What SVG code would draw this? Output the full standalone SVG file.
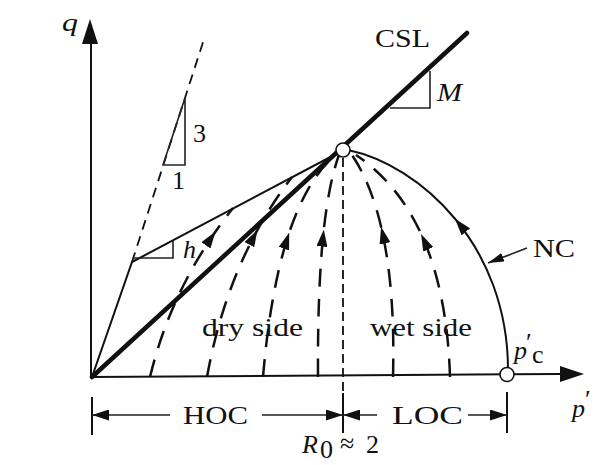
<svg xmlns="http://www.w3.org/2000/svg" width="608" height="465" viewBox="0 0 608 465">
<defs>
<style>
.ln{fill:none;stroke:#111;stroke-width:2}
.thick{fill:none;stroke:#111;stroke-width:4.5;stroke-linecap:round}
.dash{fill:none;stroke:#111;stroke-width:2.5;stroke-dasharray:18 12}
.dashs{fill:none;stroke:#111;stroke-width:1.8;stroke-dasharray:10 7}
.dashv{fill:none;stroke:#111;stroke-width:1.8;stroke-dasharray:9 5}
.thin{fill:none;stroke:#222;stroke-width:1.6}
.head{fill:#111;stroke:none}
.t{font-family:"Liberation Serif","Times New Roman",serif;fill:#111;font-size:26px}
.i{font-style:italic}
.circ{fill:#fff;stroke:#111;stroke-width:1.6}
</style>
<marker id="ah" viewBox="0 0 17 11" refX="17" refY="5.5" markerWidth="17" markerHeight="11" orient="auto" markerUnits="userSpaceOnUse"><path d="M0,0 L17,5.5 L0,11 z" fill="#111"/></marker>
<marker id="ahs" viewBox="0 0 16 9" refX="16" refY="4.5" markerWidth="16" markerHeight="9" orient="auto" markerUnits="userSpaceOnUse"><path d="M0,0 L16,4.5 L0,9 z" fill="#111"/></marker>
</defs>
<rect width="608" height="465" fill="#fff"/>

<g id="axes">
<path class="ln" d="M91,377 L91,42"/>
<polygon class="head" points="90,19 82,44 98,44"/>
<path class="ln" d="M91,377 L562,374"/>
<polygon class="head" points="584,374 560,366 560,382"/>
<text class="t i" x="62" y="31" textLength="16" lengthAdjust="spacingAndGlyphs">q</text>
<text class="t i" x="572" y="417" font-size="26">p</text>
<text class="t" x="585" y="408" font-size="18">′</text>
</g>

<g id="slope-line">
<path class="dashs" d="M132,262 L205,36"/>
<path class="thin" d="M163,165 L185,98 L185,165 Z"/>
<text class="t" x="193" y="142" font-size="22">3</text>
<text class="t" x="172" y="189" font-size="22">1</text>
</g>

<g id="hvorslev">
<path class="ln" d="M92,377 L132,262 L338,153"/>
<path class="thin" d="M133,258 L173,258 L173,241"/>
<text class="t i" x="183" y="258" font-size="26">h</text>
</g>

<g id="csl">
<path class="thick" d="M92,377 L467,33"/>
<path class="thin" d="M390,108 L430,108 L430,71"/>
<text class="t" x="375" y="47" font-size="27" textLength="55" lengthAdjust="spacingAndGlyphs">CSL</text>
<text class="t i" x="437" y="101" textLength="25" lengthAdjust="spacingAndGlyphs">M</text>
</g>

<g id="connectors">
<path class="dash" marker-mid="url(#ah)" d="M150,377 Q168.7,298.8 215.6,231.5 Q223.9,219.6 233,208"/>
<path class="dash" marker-mid="url(#ah)" d="M207,377 Q221.7,295.1 257.5,229.8 Q272.8,201.9 292,177"/>
<path class="dash" marker-mid="url(#ah)" d="M263,377 Q270.5,288.5 289.25,232.5 Q308,176.5 338,153"/>
<path class="dash" marker-mid="url(#ah)" d="M318,377 Q317.45,287.9 323.8,229.6 Q329.1,182 339,155"/>
<path class="dash" marker-mid="url(#ah)" d="M393,377 Q395.3,287.1 381.1,226.8 Q370.9,183.1 352,155"/>
<path class="dash" marker-mid="url(#ah)" d="M450,377 Q447.35,291.1 421.1,233.9 Q397.8,183.2 356,155"/>
<path class="dashv" d="M343,158 L343,394"/>
</g>

<g id="nc">
<path class="ln" marker-mid="url(#ah)" d="M508,370 C508,307.5 486,256.25 455,218.75 C424,181.25 384,157.5 348,150"/>
<path class="thin" marker-end="url(#ahs)" d="M527,248 L488,263"/>
<text class="t" x="533" y="257" font-size="27" textLength="42" lengthAdjust="spacingAndGlyphs">NC</text>
</g>

<g id="points">
<circle class="circ" cx="343" cy="150" r="7"/>
<circle class="circ" cx="507" cy="374.5" r="7"/>
<text class="t i" x="514" y="359" font-size="26">p</text>
<text class="t" x="526" y="351" font-size="18">′</text>
<text class="t" x="532" y="363" font-size="19">c</text>
</g>

<g id="regions">
<text class="t" x="202" y="336" textLength="101" lengthAdjust="spacingAndGlyphs">dry side</text>
<text class="t" x="370" y="336" textLength="102" lengthAdjust="spacingAndGlyphs">wet side</text>
</g>

<g id="dimensions">
<path class="ln" d="M92,397 L92,435"/>
<path class="ln" d="M343,393 L343,433"/>
<path class="ln" d="M507,392 L507,433"/>
<path class="thin" marker-end="url(#ah)" d="M170,415 L92,415"/>
<path class="thin" marker-end="url(#ah)" d="M262,415 L343,415"/>
<path class="thin" marker-end="url(#ah)" d="M377,415 L343,415"/>
<path class="thin" marker-end="url(#ah)" d="M468,415 L507,415"/>
<text class="t" x="183" y="424" font-size="27" textLength="65" lengthAdjust="spacingAndGlyphs">HOC</text>
<text class="t" x="392" y="424" font-size="27" textLength="71" lengthAdjust="spacingAndGlyphs">LOC</text>
<text class="t i" x="302" y="453" font-size="26">R</text>
<text class="t" x="320" y="458" font-size="17">0</text>
<text class="t" x="340" y="452" font-size="28">≈</text>
<text class="t" x="366" y="453" font-size="26">2</text>
</g>
</svg>
